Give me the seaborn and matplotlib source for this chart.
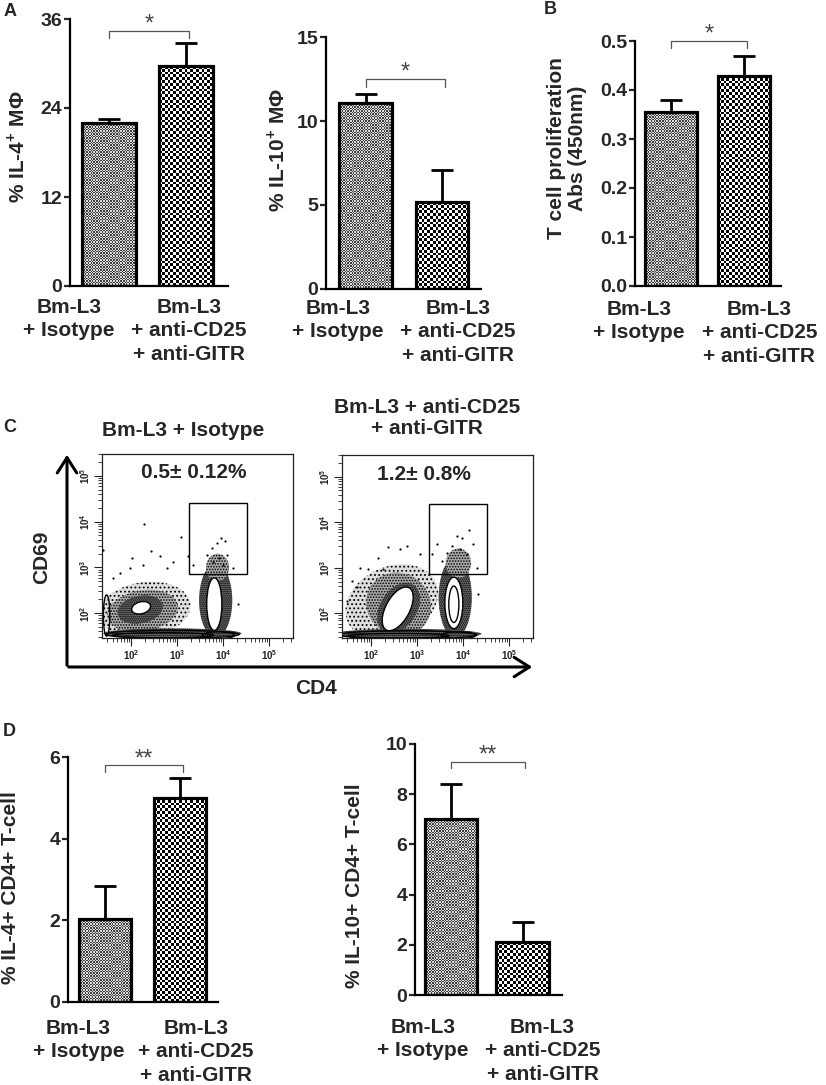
import numpy as np
import matplotlib
matplotlib.use("Agg")
import matplotlib.pyplot as plt
from matplotlib.colors import ListedColormap
from matplotlib.patches import Ellipse, Rectangle, FancyArrowPatch
from matplotlib.transforms import ScaledTranslation
import seaborn as sns

# ---------------- values ----------------
groups = ["Bm-L3\n+ Isotype", "Bm-L3\n+ anti-CD25\n+ anti-GITR"]

il4_mphi = [22.0, 29.6]
il4_mphi_sem = [0.5, 3.1]
il10_mphi = [11.1, 5.15]
il10_mphi_sem = [0.5, 1.95]
tcell_prolif = [0.355, 0.429]
tcell_prolif_sem = [0.024, 0.040]
il4_cd4 = [2.03, 5.0]
il4_cd4_sem = [0.82, 0.49]
il10_cd4 = [7.0, 2.1]
il10_cd4_sem = [1.4, 0.8]

sig_marks = ["*", "*", "*", "**", "**"]
sig_heights = [34.4, 12.5, 0.50, 5.8, 9.3]
sig_drops = [0.9, 0.5, 0.014, 0.16, 0.25]

# flow cytometry panel C, all in log10 units
flow_titles = ["Bm-L3 + Isotype", "Bm-L3 + anti-CD25\n+ anti-GITR"]
flow_pct = ["0.5\u00b1 0.12%", "1.2\u00b1 0.8%"]
gate_x = [3.26, 4.52]
gate_y = [2.86, 4.40]

# density areas: cx, cy, width, height, angle, level
iso_density = [
    (2.30, 2.08, 2.00, 1.20, 8, 1),
    (2.25, 2.05, 1.55, 0.90, 10, 2),
    (2.20, 2.08, 1.00, 0.60, 12, 3),
    (3.84, 2.28, 0.72, 1.60, 0, 3),
    (3.88, 3.00, 0.50, 0.60, 0, 2),
    (2.90, 1.56, 3.00, 0.22, 0, 3),
]
gitr_density = [
    (2.45, 2.25, 2.10, 1.55, 25, 1),
    (2.60, 2.20, 1.35, 1.45, 50, 2),
    (2.60, 2.12, 1.20, 0.80, 58, 3),
    (3.83, 2.35, 0.72, 1.75, 0, 3),
    (3.90, 3.10, 0.55, 0.65, 0, 2),
    (2.80, 1.55, 3.20, 0.22, 0, 3),
]
# contour outlines: cx, cy, width, height, angle, filled
iso_contours = [
    (2.22, 2.12, 0.42, 0.26, 15, 1),
    (3.81, 2.20, 0.33, 1.15, 0, 1),
    (2.90, 1.54, 2.90, 0.18, 0, 0),
    (2.70, 1.52, 2.20, 0.11, 0, 0),
    (3.90, 1.52, 0.70, 0.15, 0, 0),
    (1.47, 1.95, 0.14, 0.90, 0, 0),
]
gitr_contours = [
    (2.58, 2.10, 1.05, 0.52, 62, 1),
    (3.80, 2.23, 0.39, 1.13, 0, 1),
    (3.80, 2.20, 0.22, 0.80, 0, 0),
    (2.80, 1.53, 3.00, 0.18, 0, 0),
    (2.60, 1.51, 2.20, 0.10, 0, 0),
    (3.90, 1.52, 0.75, 0.15, 0, 0),
]
iso_dots_x = [2.28, 3.08, 1.39, 2.43, 2.02, 2.63, 2.91, 3.96, 3.86, 3.75, 4.04, 3.65, 4.08,
              3.24, 4.22, 4.33, 3.35, 1.98, 2.26, 1.61, 1.76, 2.78, 3.78, 3.91, 4.00]
iso_dots_y = [3.94, 3.66, 3.38, 3.37, 3.20, 3.24, 3.13, 3.64, 3.53, 3.42, 3.57, 3.28, 3.28,
              3.24, 2.98, 2.20, 3.06, 2.98, 3.06, 2.77, 2.88, 2.98, 3.13, 3.20, 3.06]
gitr_dots_x = [4.14, 3.86, 3.97, 3.43, 4.22, 2.38, 2.78, 2.16, 1.76, 1.94, 1.58, 1.47, 3.32,
               3.65, 4.08, 4.30, 4.33, 3.07, 2.63, 3.75, 3.93, 3.54, 1.69, 2.27]
gitr_dots_y = [3.84, 3.70, 3.66, 3.52, 3.52, 3.46, 3.48, 3.22, 3.00, 2.97, 2.72, 2.28, 3.30,
               3.33, 3.30, 3.00, 2.43, 3.30, 3.41, 3.48, 3.41, 3.15, 2.57, 2.97]

# ---------------- style ----------------
sns.set_style("white")
plt.rcParams["font.family"] = ["Liberation Sans", "DejaVu Sans"]
plt.rcParams["font.weight"] = "bold"
plt.rcParams["mathtext.fontset"] = "custom"
plt.rcParams["mathtext.rm"] = "Liberation Sans"
plt.rcParams["mathtext.bf"] = "Liberation Sans:bold"
plt.rcParams["hatch.linewidth"] = 0.8

W, H = 826, 1085
fig = plt.figure(figsize=(W / 100, H / 100), dpi=100)


def add_axes_px(left, top, right, bottom):
    return fig.add_axes([left / W, 1 - bottom / H, (right - left) / W, (bottom - top) / H])


def text_px(x, y, s, **kw):
    kw.setdefault("ha", "center")
    kw.setdefault("va", "center")
    fig.text(x / W, 1 - y / H, s, **kw)


fine = ListedColormap(["#404040", "#dcdcdc"])
coarse = ListedColormap(["#000000", "#ffffff"])


def add_checker(ax, patch, cell, cmap):
    x0, y0 = patch.get_x(), patch.get_y()
    w, h = patch.get_width(), patch.get_height()
    (p0x, p0y), (p1x, p1y) = ax.transData.transform([(x0, y0), (x0 + w, y0 + h)])
    nx = max(int(round(abs(p1x - p0x) / cell)), 1)
    ny = max(int(round(abs(p1y - p0y) / cell)), 1)
    tex = np.add.outer(np.arange(ny), np.arange(nx)) % 2
    im = ax.imshow(tex, extent=(x0, x0 + w, y0, y0 + h), cmap=cmap, vmin=0, vmax=1,
                   interpolation="nearest", aspect="auto", zorder=2)
    im.set_clip_path(patch)


def bar_panel(box, means, sems, ymax, yticks, ytlabels, xlim, width, idx,
              label_dx, label_pad):
    ax = add_axes_px(*box)
    sns.barplot(x=groups, y=means, ax=ax, width=width, errorbar=None,
                color="white", edgecolor="black", linewidth=2.3, zorder=3)
    bars = list(ax.patches)
    ax.set_xlim(*xlim)
    ax.set_ylim(0, ymax)
    for bar, cell, cmap in zip(bars, [1.4, 2.8], [fine, coarse]):
        bar.set_facecolor("none")
        bar.set_zorder(3)
        add_checker(ax, bar, cell, cmap)
    ax.set_xlim(*xlim)
    ax.set_ylim(0, ymax)
    ax.errorbar([0, 1], means, yerr=[np.zeros(2), sems], fmt="none", ecolor="black",
                elinewidth=2.0, capsize=8, capthick=2.0, zorder=4)
    # significance bracket
    h, d = sig_heights[idx], sig_drops[idx]
    ax.plot([0, 0, 1.04, 1.04], [h - d, h, h, h - d], color="#555555", lw=0.9,
            clip_on=False, zorder=5)
    ax.text(0.52, h, sig_marks[idx], ha="center", va="baseline", fontsize=17,
            fontweight="normal", color="#444444", clip_on=False)
    sns.despine(ax=ax)
    for side in ["left", "bottom"]:
        ax.spines[side].set_linewidth(1.6)
        ax.spines[side].set_color("black")
    ax.set_yticks(yticks)
    ax.set_yticklabels(ytlabels, fontsize=14, fontweight="bold")
    ax.tick_params(axis="y", direction="out", length=4, width=1.6, pad=1.5, left=True)
    ax.tick_params(axis="x", length=0, pad=label_pad)
    ax.set_xticks([0, 1])
    ax.set_xticklabels(groups, fontsize=15, fontweight="bold", va="top", linespacing=1.3)
    for lab, dx in zip(ax.get_xticklabels(), label_dx):
        lab.set_transform(lab.get_transform() + ScaledTranslation(dx / 100, 0, fig.dpi_scale_trans))
    ax.set_xlabel("")
    ax.set_ylabel("")
    return ax


bar_panel((70, 19, 228, 286), il4_mphi, il4_mphi_sem, 36, [0, 12, 24, 36],
          ["0", "12", "24", "36"], (-0.51, 1.55), 0.70, 0, (-40, 3), 8.5)
bar_panel((326, 37, 481, 289), il10_mphi, il10_mphi_sem, 15, [0, 5, 10, 15],
          ["0", "5", "10", "15"], (-0.52, 1.51), 0.69, 1, (-28, 16), 7)
bar_panel((635, 41, 781, 286), tcell_prolif, tcell_prolif_sem, 0.5,
          [0, 0.1, 0.2, 0.3, 0.4, 0.5], ["0.0", "0.1", "0.2", "0.3", "0.4", "0.5"],
          (-0.49, 1.50), 0.71, 2, (-32, 15), 10)
bar_panel((68, 757, 218, 1002), il4_cd4, il4_cd4_sem, 6, [0, 2, 4, 6],
          ["0", "2", "4", "6"], (-0.50, 1.51), 0.70, 3, (-27, 16), 12)
bar_panel((415, 744, 562, 995), il10_cd4, il10_cd4_sem, 10, [0, 2, 4, 6, 8, 10],
          ["0", "2", "4", "6", "8", "10"], (-0.50, 1.55), 0.73, 4, (-28, 20), 16.5)

# y labels
text_px(17, 147, "% IL-4$^{\\mathbf{+}}$ M\u03a6", rotation=90, fontsize=15, fontweight="bold")
text_px(277, 150, "% IL-10$^{\\mathbf{+}}$ M\u03a6", rotation=90, fontsize=15, fontweight="bold")
text_px(567, 148, "T cell proliferation\nAbs (450nm)", rotation=90, fontsize=15,
        fontweight="bold", linespacing=1.15)
text_px(11, 888, "% IL-4+ CD4+ T-cell", rotation=90, fontsize=15, fontweight="bold")
text_px(355, 886, "% IL-10+ CD4+ T-cell", rotation=90, fontsize=15, fontweight="bold")

# panel letters
for letter, (x, y) in zip("ABCD", [(10, 12), (550, 9), (10, 428), (9, 731)]):
    text_px(x, y, letter, fontsize=13, fontweight="bold")

# ---------------- panel C: flow plots ----------------
hatch_for = {1: "....", 2: "......", 3: "........"}
shade_for = {1: "#dedede", 2: "#acacac", 3: "#6e6e6e"}
major = [2, 3, 4, 5]
minor = [np.log10(k) + d for d in range(1, 6) for k in range(2, 10)]
minor = [m for m in minor if 1.37 < m < 5.52]


def flow_panel(box, density, contours, dots_x, dots_y):
    ax = add_axes_px(*box)
    for cx, cy, w, h, ang, lvl in density:
        ax.add_patch(Ellipse((cx, cy), w, h, angle=ang, facecolor=shade_for[lvl],
                             edgecolor="black", linewidth=0, hatch=hatch_for[lvl], zorder=1))
    for cx, cy, w, h, ang, filled in contours:
        ax.add_patch(Ellipse((cx, cy), w, h, angle=ang,
                             facecolor="white" if filled else "none", edgecolor="black",
                             linewidth=1.0, zorder=2 if filled else 2.5))
    sns.scatterplot(x=dots_x, y=dots_y, ax=ax, s=2.5, color="black", linewidth=0, zorder=3)
    ax.add_patch(Rectangle((gate_x[0], gate_y[0]), gate_x[1] - gate_x[0],
                           gate_y[1] - gate_y[0], fill=False, lw=1.0, ec="black", zorder=4))
    ax.set_xlim(1.37, 5.52)
    ax.set_ylim(1.46, 5.43)
    for s in ax.spines.values():
        s.set_visible(True)
        s.set_linewidth(0.9)
        s.set_color("#222222")
    ax.set_xticks(major)
    ax.set_xticks(minor, minor=True)
    ax.set_yticks(major)
    ax.set_yticks(minor, minor=True)
    ax.set_xticklabels([f"$10^{{{d}}}$" for d in major], fontsize=7, fontweight="normal")
    ax.set_yticklabels([f"$10^{{{d}}}$" for d in major], fontsize=7, fontweight="normal",
                       rotation=90, va="center")
    ax.tick_params(which="major", direction="out", length=6, width=0.8, pad=1,
                   bottom=True, left=True, colors="#222222")
    ax.tick_params(which="minor", direction="out", length=3, width=0.6,
                   bottom=True, left=True, colors="#222222")
    ax.grid(False)
    return ax


flow_panel((102, 454, 293, 638), iso_density, iso_contours, iso_dots_x, iso_dots_y)
flow_panel((342, 455, 533, 638), gitr_density, gitr_contours, gitr_dots_x, gitr_dots_y)

text_px(183, 430, flow_titles[0], fontsize=15, fontweight="bold")
text_px(427, 418, flow_titles[1], fontsize=15, fontweight="bold", linespacing=1.15)
text_px(194, 473, flow_pct[0], fontsize=15, fontweight="bold")
text_px(424, 475, flow_pct[1], fontsize=15, fontweight="bold")
text_px(42, 557, "CD69", rotation=90, fontsize=15, fontweight="bold")
text_px(316, 688, "CD4", fontsize=15, fontweight="bold")

arrow_kw = dict(transform=fig.transFigure, arrowstyle="->,head_length=0.55,head_width=0.35",
                mutation_scale=20, lw=2.2, color="black")
fig.add_artist(FancyArrowPatch((67 / W, 1 - 668 / H), (67 / W, 1 - 452 / H), **arrow_kw))
fig.add_artist(FancyArrowPatch((66 / W, 1 - 667 / H), (535 / W, 1 - 667 / H), **arrow_kw))

fig.savefig("out.png", dpi=100)
